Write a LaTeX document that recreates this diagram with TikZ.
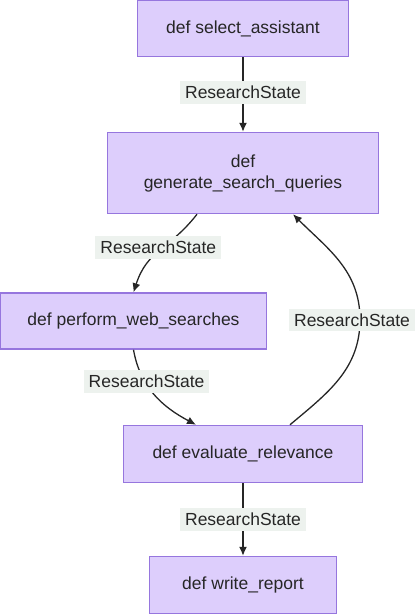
\documentclass[tikz,border=0pt]{standalone}
\usepackage{fontspec}
\setmainfont{Liberation Sans}
\usetikzlibrary{arrows.meta}
\usetikzlibrary{positioning, calc}

\begin{document}
\begin{tikzpicture}[x=1pt,y=-1pt]
      \colorlet{myfill}{rgb,255:red,221;green,206;blue,252}
      \colorlet{mystroke}{rgb,255:red,150;green,118;blue,222}
      \colorlet{mylabelbg}{rgb,255:red,237;green,242;blue,238}
      \colorlet{myline}{black!85}

      \tikzset{
        fn/.style={draw=mystroke,fill=myfill,line width=1.5pt,align=center,
          font=\fontsize{17.5}{21}\selectfont,text=black!85,inner sep=0pt},
        edgelbl/.style={fill=mylabelbg,font=\fontsize{17.5}{20}\selectfont,
          text=black!85,inner xsep=5pt,inner ysep=5pt},
        flow/.style={draw=myline,line width=1.3pt,-{Latex[length=9pt,width=8pt]}}
      }

      \useasboundingbox (0,0) rectangle (416,614);

      % NODES
      \node[fn,minimum width=211pt,minimum height=56pt] (select) at (243,28.5) {def select\_assistant};
      \node[fn,minimum width=271pt,minimum height=81pt] (generate) at (243,173) {def\\generate\_search\_queries};
      \node[fn,minimum width=266pt,minimum height=56pt] (perform) at (133.5,321) {def perform\_web\_searches};
      \node[fn,minimum width=239pt,minimum height=57pt] (evaluate) at (243,454) {def evaluate\_relevance};
      \node[fn,minimum width=187pt,minimum height=57pt] (report) at (243,585) {def write\_report};

      % EDGES
      \draw[flow] (select) -- (evaluate.north |- generate.north)
        node[edgelbl,pos=.47] (lblA) {ResearchState};
      \draw[flow] ([xshift=-46pt]generate.south) to[out=-128,in=72,looseness=1.15]
        node[edgelbl,pos=.45,xshift=-5pt] (lblB) {ResearchState} (perform.south |- perform.north);
      \draw[flow] (perform.south) to[out=-80,in=152]
        node[edgelbl,pos=.3,xshift=3pt,yshift=-2pt] (lblC) {ResearchState} ([xshift=-47pt]evaluate.north);
      \draw[flow] ([xshift=47pt]evaluate.north) to[out=40,in=-90,looseness=1]
        ($(evaluate.north)!.5!(generate.south)+(117,0)$)
        to[out=90,in=-45,looseness=1] ([xshift=50pt]generate.south);
      \node[edgelbl] (lblD) at (352,320) {ResearchState};
      \draw[flow] (evaluate) -- (report)
        node[edgelbl,pos=.5] (lblE) {ResearchState};

\end{tikzpicture}
\end{document}
